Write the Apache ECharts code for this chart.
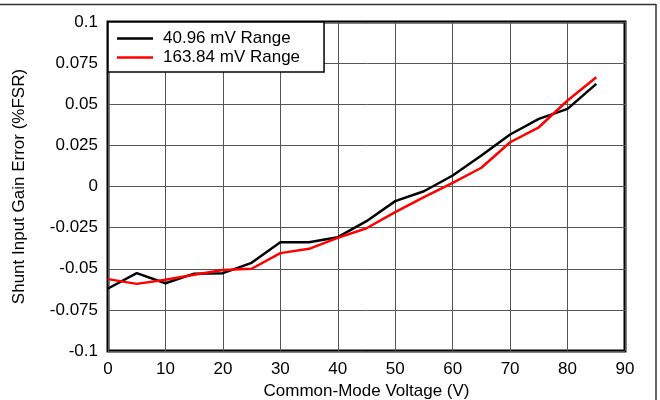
<!DOCTYPE html>
<html><head><meta charset="utf-8">
<script src="https://cdn.jsdelivr.net/npm/echarts@6/dist/echarts.min.js"></script>
<style>html,body{margin:0;padding:0;background:#fff}#c{width:660px;height:400px}</style>
</head><body><div id="c"></div>
<script>
const voltages = [0,5,10,15,20,25,30,35,40,45,50,55,60,65,70,75,80,85];
const range4096 = [-0.062,-0.0527,-0.0588,-0.053,-0.0527,-0.0464,-0.0339,-0.0339,-0.0308,-0.0211,-0.0089,-0.0029,0.0067,0.0188,0.0316,0.0411,0.0472,0.0624];
const range16384 = [-0.0563,-0.0592,-0.0567,-0.0537,-0.0507,-0.050,-0.0405,-0.0379,-0.0312,-0.0254,-0.0156,-0.0065,0.0022,0.0114,0.0269,0.036,0.0523,0.0664];
const seriesNames = ['40.96 mV Range','163.84 mV Range'];
const yTicks = ['-0.1','-0.075','-0.05','-0.025','0','0.025','0.05','0.075','0.1'];

const font = 'Liberation Sans, Arial, sans-serif';
const chart = echarts.init(document.getElementById('c'));
chart.setOption({
  animation:false,
  grid:{left:108,right:35,top:22,bottom:49,outerBoundsMode:'none',containLabel:false,show:true,borderColor:'#000',borderWidth:3,backgroundColor:'transparent'},
  legend:{
    orient:'vertical',left:108,top:22,
    data:seriesNames.map(n=>({name:n,icon:'rect'})),
    backgroundColor:'#fff',borderColor:'#000',borderWidth:1.5,
    padding:[8,24,6,9],itemGap:2,itemWidth:36,itemHeight:2.5,
    textStyle:{fontFamily:font,fontSize:17,color:'#000',padding:[0,0,0,5]}
  },
  xAxis:{
    type:'value',min:0,max:90,interval:10,
    name:'Common-Mode Voltage (V)',nameLocation:'middle',nameGap:29,
    nameTextStyle:{fontFamily:font,fontSize:17,color:'#000'},
    axisLine:{show:false},axisTick:{show:false},
    axisLabel:{fontFamily:font,fontSize:17,color:'#000',margin:10},
    splitLine:{show:true,lineStyle:{color:'#555',width:1}}
  },
  yAxis:{
    type:'value',min:-0.1,max:0.1,interval:0.025,
    name:'Shunt Input Gain Error (%FSR)',nameLocation:'middle',nameGap:80,
    nameTextStyle:{fontFamily:font,fontSize:17,color:'#000'},
    axisLine:{show:false},axisTick:{show:false},
    axisLabel:{fontFamily:font,fontSize:17,color:'#000',margin:10,
      formatter:(v)=>{const s=yTicks.find(t=>Math.abs(parseFloat(t)-v)<1e-9);return s!==undefined?s:v;}},
    splitLine:{show:true,lineStyle:{color:'#555',width:1}}
  },
  series:[
    {name:seriesNames[0],type:'line',data:voltages.map((x,i)=>[x,range4096[i]]),showSymbol:false,symbol:'none',
     lineStyle:{color:'#000',width:2.5},itemStyle:{color:'#000'},z:3},
    {name:seriesNames[1],type:'line',data:voltages.map((x,i)=>[x,range16384[i]]),showSymbol:false,symbol:'none',
     lineStyle:{color:'#f00',width:2.5},itemStyle:{color:'#f00'},z:4}
  ],
  graphic:[
    {type:'line',shape:{x1:0,y1:4.5,x2:656,y2:4.5},style:{stroke:'#333',lineWidth:1.5},silent:true},
    {type:'line',shape:{x1:656,y1:4,x2:656,y2:400},style:{stroke:'#333',lineWidth:1.5},silent:true}
  ]
});
</script></body></html>
